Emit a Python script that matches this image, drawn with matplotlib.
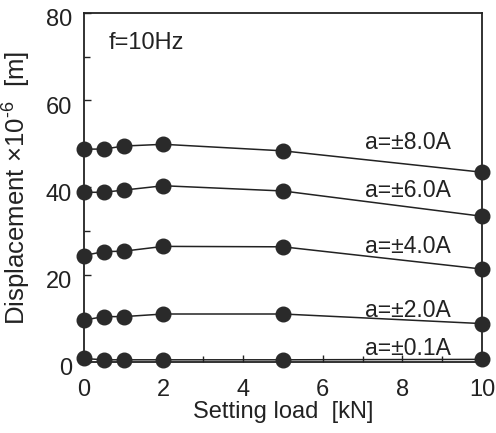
import matplotlib
matplotlib.use("Agg")
import matplotlib.pyplot as plt
from matplotlib.ticker import MultipleLocator
from matplotlib.transforms import ScaledTranslation

plt.rcParams['font.family'] = ['Liberation Sans', 'DejaVu Sans']
plt.rcParams['mathtext.fontset'] = 'custom'
plt.rcParams['mathtext.rm'] = 'Liberation Sans'

# Setting load [kN]
load = [0, 0.5, 1, 2, 5, 10]

# Displacement (x10^-6 m) for each excitation amplitude
amplitudes = ["a=±8.0A", "a=±6.0A", "a=±4.0A", "a=±2.0A", "a=±0.1A"]
disp_8A = [48.8, 48.8, 49.5, 49.9, 48.4, 43.5]
disp_6A = [38.9, 38.9, 39.4, 40.4, 39.2, 33.4]
disp_4A = [24.4, 25.3, 25.4, 26.5, 26.4, 21.3]
disp_2A = [9.6, 10.4, 10.4, 11.0, 11.0, 8.8]
disp_01A = [0.8, 0.5, 0.5, 0.5, 0.5, 0.6]
series = [disp_8A, disp_6A, disp_4A, disp_2A, disp_01A]

# label anchor heights (data units)
label_y = [50.2, 39.4, 26.4, 11.9, 3.2]

ink = '#222222'

fig = plt.figure(figsize=(4.96, 4.33), dpi=100)
ax = fig.add_axes([0.169, 0.164, 0.803, 0.806])

for vals in series:
    ax.plot(load, vals, color=ink, lw=1.1, marker='o', ms=10.5,
            markerfacecolor='#2a2a2a', markeredgecolor='#2a2a2a', clip_on=False, zorder=3)

for txt, yy in zip(amplitudes, label_y):
    ax.text(8.14, yy, txt, fontsize=16.5, va='center', ha='center', color=ink)

ax.text(1.58, 73.2, "f=10Hz", fontsize=17, va='center', ha='center', color=ink)

ax.set_xlim(0, 10)
ax.set_ylim(0, 80)
ax.xaxis.set_major_locator(MultipleLocator(2))
ax.xaxis.set_minor_locator(MultipleLocator(1))
ax.yaxis.set_major_locator(MultipleLocator(20))
ax.yaxis.set_minor_locator(MultipleLocator(10))
ax.tick_params(which='both', direction='in', colors=ink, labelsize=17,
               top=False, right=False)
ax.tick_params(which='major', length=5, width=1.0)
ax.tick_params(axis='x', which='major', pad=12)
ax.tick_params(axis='y', which='major', pad=8.5)
ax.tick_params(which='minor', length=4, width=1.0)
for sp in ax.spines.values():
    sp.set_linewidth(1.3)
    sp.set_color(ink)

# y tick labels sit slightly below their ticks
shift = ScaledTranslation(0, -5 / 100, fig.dpi_scale_trans)
for lab in ax.get_yticklabels():
    lab.set_transform(lab.get_transform() + shift)

ax.set_xlabel("Setting load  [kN]", fontsize=17, color=ink, labelpad=0)
ax.set_ylabel("Displacement $\\times$10$^{\\text{-}6}$  [m]", fontsize=18.5, color=ink, labelpad=10)

fig.savefig("out.png", dpi=100)
